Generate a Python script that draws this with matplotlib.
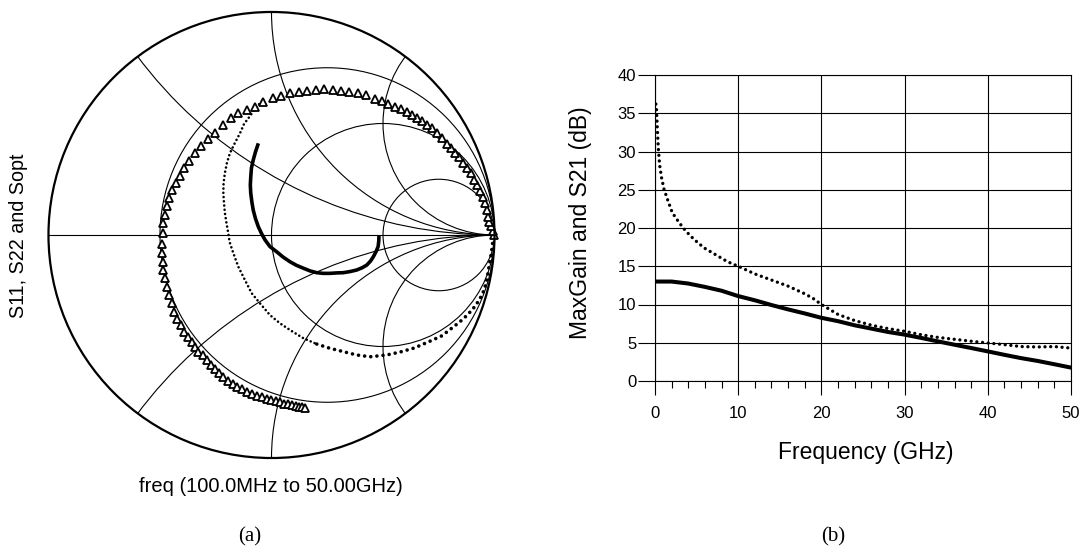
import matplotlib.pyplot as plt
from matplotlib.patches import Circle
from matplotlib.ticker import MultipleLocator

plt.rcParams['font.family'] = ['Liberation Sans', 'DejaVu Sans']

# Smith chart traces as reflection coefficients (real, imag)
sopt_re = [0.998, 0.991, 0.982, 0.975, 0.972, 0.965, 0.957, 0.947, 0.935, 0.923,
           0.908, 0.893, 0.878, 0.860, 0.842, 0.823, 0.804, 0.786, 0.763, 0.741,
           0.718, 0.696, 0.674, 0.654, 0.631, 0.606, 0.579, 0.554, 0.524, 0.496,
           0.464, 0.424, 0.387, 0.349, 0.310, 0.274, 0.237, 0.200, 0.161, 0.122,
           0.083, 0.044, 0.005, -0.037, -0.074, -0.111, -0.149, -0.183, -0.219, -0.253,
           -0.286, -0.316, -0.343, -0.369, -0.391, -0.410, -0.428, -0.445, -0.458, -0.470,
           -0.479, -0.485, -0.488, -0.491, -0.491, -0.488, -0.485, -0.478, -0.470, -0.458,
           -0.448, -0.436, -0.422, -0.407, -0.392, -0.375, -0.358, -0.343, -0.328, -0.309,
           -0.291, -0.273, -0.253, -0.234, -0.216, -0.194, -0.174, -0.153, -0.132, -0.111,
           -0.089, -0.066, -0.044, -0.022, -0.002, 0.018, 0.038, 0.056, 0.074, 0.092,
           0.108, 0.123, 0.137, 0.150]
sopt_im = [0.000, 0.018, 0.040, 0.060, 0.082, 0.112, 0.142, 0.172, 0.199, 0.224,
           0.247, 0.277, 0.299, 0.324, 0.348, 0.369, 0.389, 0.408, 0.434, 0.456,
           0.478, 0.493, 0.513, 0.526, 0.538, 0.553, 0.564, 0.575, 0.586, 0.599,
           0.612, 0.628, 0.635, 0.641, 0.646, 0.650, 0.653, 0.650, 0.647, 0.641,
           0.635, 0.625, 0.613, 0.595, 0.575, 0.561, 0.546, 0.523, 0.493, 0.459,
           0.429, 0.399, 0.369, 0.332, 0.299, 0.265, 0.232, 0.202, 0.165, 0.130,
           0.090, 0.052, 0.009, -0.042, -0.082, -0.122, -0.157, -0.194, -0.232, -0.269,
           -0.306, -0.344, -0.377, -0.404, -0.434, -0.457, -0.478, -0.501, -0.523, -0.538,
           -0.561, -0.583, -0.602, -0.620, -0.638, -0.653, -0.668, -0.680, -0.692, -0.703,
           -0.713, -0.722, -0.728, -0.734, -0.740, -0.746, -0.751, -0.756, -0.760, -0.764,
           -0.767, -0.770, -0.771, -0.774]

s11_re = [-0.043, -0.070, -0.096, -0.123, -0.141, -0.164, -0.186, -0.200, -0.209, -0.215,
          -0.216, -0.213, -0.209, -0.202, -0.194, -0.188, -0.171, -0.149, -0.119, -0.089,
          -0.052, -0.007, 0.038, 0.083, 0.143, 0.203, 0.262, 0.322, 0.382, 0.442,
          0.516, 0.576, 0.639, 0.702, 0.764, 0.808, 0.845, 0.878, 0.905, 0.932,
          0.950, 0.962, 0.968, 0.974, 0.982, 0.989, 0.993]
s11_im = [0.601, 0.570, 0.534, 0.498, 0.457, 0.413, 0.368, 0.323, 0.278, 0.233,
          0.188, 0.143, 0.099, 0.054, 0.009, -0.031, -0.082, -0.142, -0.202, -0.261,
          -0.306, -0.359, -0.396, -0.426, -0.463, -0.489, -0.508, -0.523, -0.538, -0.546,
          -0.538, -0.525, -0.507, -0.480, -0.452, -0.418, -0.389, -0.359, -0.329, -0.291,
          -0.254, -0.217, -0.187, -0.149, -0.103, -0.058, -0.022]

s22_re = [-0.059, -0.072, -0.082, -0.090, -0.093, -0.095, -0.093, -0.088, -0.082, -0.072,
          -0.059, -0.045, -0.029, -0.007, 0.023, 0.052, 0.083, 0.112, 0.143, 0.173,
          0.203, 0.232, 0.262, 0.292, 0.322, 0.352, 0.382, 0.406, 0.427, 0.444,
          0.457, 0.469, 0.478, 0.481, 0.482]
s22_im = [0.411, 0.372, 0.336, 0.300, 0.261, 0.224, 0.187, 0.148, 0.112, 0.074,
          0.037, 0.007, -0.022, -0.052, -0.075, -0.099, -0.120, -0.136, -0.149, -0.161,
          -0.169, -0.172, -0.172, -0.170, -0.169, -0.164, -0.157, -0.147, -0.135, -0.117,
          -0.097, -0.074, -0.052, -0.027, 0.000]

# constant resistance circles and constant reactance arcs
r_circles = [1 / 3, 1, 3]
x_arcs = [0.5, 1, 2]

# gain versus frequency
freq_s21 = [0.1, 2, 4, 6, 8, 10, 12, 14, 16, 18, 20, 22, 24, 26,
            28, 30, 32, 34, 36, 38, 40, 42, 44, 46, 48, 50]
s21_db = [13.0, 13.0, 12.74, 12.3, 11.8, 11.1, 10.55, 9.93, 9.36, 8.83, 8.26, 7.82, 7.28, 6.85,
          6.41, 6.06, 5.63, 5.18, 4.74, 4.31, 3.87, 3.42, 2.99, 2.62, 2.19, 1.75]

freq_mag = [0.1, 0.16, 0.28, 0.4, 0.56, 0.8, 1.08, 1.48, 2.08, 2.9, 3.7, 4.7, 5.9, 7.3,
            8.7, 10, 12, 14, 16, 18, 19, 20, 22, 24, 26, 28, 30, 32, 34, 36,
            38, 40, 42, 44, 46, 48, 50]
maxgain_db = [36.2, 35.9, 33.0, 30.4, 28.2, 26.5, 25.1, 23.8, 22.0, 20.7, 19.6, 18.5, 17.4, 16.5,
              15.6, 15.0, 14.0, 13.2, 12.4, 11.4, 10.8, 10.0, 8.7, 7.9, 7.3, 6.85, 6.5, 6.05, 5.7, 5.45,
              5.2, 4.97, 4.75, 4.5, 4.45, 4.5, 4.3]

fig = plt.figure(figsize=(10.88, 5.52), dpi=100)

# ---- (a) Smith chart ----
ax = fig.add_axes([35.1 / 1088, 80.6 / 552, 472.8 / 1088, 472.8 / 552])
ax.set_xlim(-1.06, 1.06)
ax.set_ylim(-1.06, 1.06)
ax.axis('off')

unit = Circle((0, 0), 1, fill=False, lw=1.6, ec='black', zorder=4)
ax.add_patch(unit)
ax.plot([-1, 1], [0, 0], color='black', lw=0.8, zorder=1)
for r in r_circles:
    ax.add_patch(Circle((r / (1 + r), 0), 1 / (1 + r), fill=False, lw=0.8, ec='black', zorder=1))
for x in x_arcs:
    for sgn in (1, -1):
        arc = Circle((1, sgn / x), 1 / x, fill=False, lw=0.8, ec='black', zorder=1)
        ax.add_patch(arc)
        arc.set_clip_path(unit)

# dotted trace: finer dots on the upper part, heavier ones toward the end
ax.plot(s11_re[:26], s11_im[:26], color='black', lw=1.9, ls=(0, (0.01, 1.6)),
        dash_capstyle='round', zorder=2)
ax.plot(s11_re[25:], s11_im[25:], color='black', lw=2.6, ls=(0, (0.01, 1.7)),
        dash_capstyle='round', zorder=2)
ax.plot(s22_re, s22_im, color='black', lw=2.6, solid_capstyle='butt', zorder=2)
ax.plot(sopt_re, sopt_im, ls='none', marker='^', ms=5.8, mfc='white', mec='black',
        mew=1.3, zorder=3)

fig.text(19 / 1088, 1 - 236 / 552, 'S11, S22 and Sopt', rotation=90, ha='center',
         va='center', fontsize=14.2)
fig.text(271 / 1088, 1 - 487 / 552, 'freq (100.0MHz to 50.00GHz)', ha='center',
         va='center', fontsize=14.5)
fig.text(250 / 1088, 1 - 537 / 552, '(a)', ha='center', va='center', fontsize=15,
         family=['Liberation Serif', 'DejaVu Serif'])

# ---- (b) gain plot ----
ax2 = fig.add_axes([655 / 1088, 171 / 552, 416 / 1088, 306 / 552])
ax2.set_xlim(0, 50)
ax2.set_ylim(0, 40)
ax2.xaxis.set_major_locator(MultipleLocator(10))
ax2.xaxis.set_minor_locator(MultipleLocator(2))
ax2.yaxis.set_major_locator(MultipleLocator(5))
ax2.grid(True, which='major', color='black', lw=0.8)
ax2.tick_params(axis='y', which='major', direction='out', length=12, width=0.8, pad=1.5,
                labelsize=12)
ax2.tick_params(axis='x', which='major', direction='out', length=10, width=0.8, pad=8,
                labelsize=12)
ax2.tick_params(axis='x', which='minor', direction='out', length=5, width=0.8)
for sp in ax2.spines.values():
    sp.set_linewidth(0.8)

ax2.plot(freq_mag, maxgain_db, color='black', lw=2.4, ls=(0, (0.01, 1.7)),
         dash_capstyle='round', zorder=3)
ax2.plot(freq_s21, s21_db, color='black', lw=2.9, zorder=3)

fig.text(580 / 1088, 1 - 223 / 552, 'MaxGain and S21 (dB)', rotation=90, ha='center',
         va='center', fontsize=16.5)
fig.text(866 / 1088, 1 - 453 / 552, 'Frequency (GHz)', ha='center', va='center',
         fontsize=16.5)
fig.text(833 / 1088, 1 - 537 / 552, '(b)', ha='center', va='center', fontsize=15,
         family=['Liberation Serif', 'DejaVu Serif'])

fig.savefig('out.png', dpi=100)
